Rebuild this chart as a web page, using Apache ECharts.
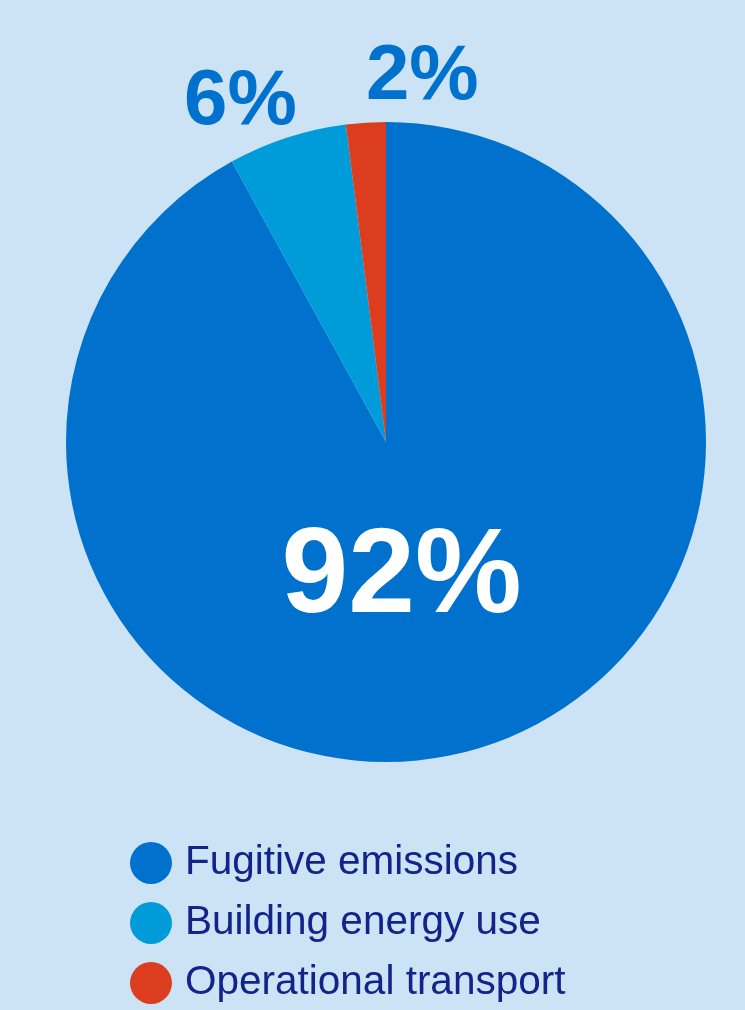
<!DOCTYPE html>
<html>
<head>
<meta charset="utf-8">
<script src="https://cdn.jsdelivr.net/npm/echarts@6/dist/echarts.min.js"></script>
<style>
html,body{margin:0;padding:0;background:#cce3f5;}
#c{width:745px;height:1010px;}
</style>
</head>
<body>
<div id="c"></div>
<script>
const categories = ['Fugitive emissions', 'Building energy use', 'Operational transport'];
const values = [92, 6, 2];
const labels = ['92%', '6%', '2%'];
const colors = ['#0072ce', '#009cda', '#dc3d1e'];

const chart = echarts.init(document.getElementById('c'), null, {renderer: 'canvas'});
const data = categories.map((name, i) => ({
  name: name,
  value: values[i],
  itemStyle: {color: colors[i]},
  label: i === 0 ? {
    position: 'inside',
    color: '#ffffff',
    fontSize: 120,
    fontWeight: 'bold'
  } : {
    position: 'outside',
    color: '#0072ce',
    fontSize: 78,
    fontWeight: 'bold'
  }
}));

const labelShift = [[-25, -21], [131, -80], [119, -25]];

chart.setOption({
  backgroundColor: '#cce3f5',
  animation: false,
  legend: {
    orient: 'vertical',
    left: 130,
    top: 842,
    padding: 0,
    itemWidth: 42,
    itemHeight: 42,
    itemGap: 18,
    icon: 'circle',
    selectedMode: false,
    textStyle: {
      fontFamily: 'Liberation Sans',
      fontSize: 40.5,
      color: '#14238a',
      padding: [0, 0, 0, 8]
    },
    data: categories
  },
  series: [{
    type: 'pie',
    center: [386, 442],
    radius: 320,
    startAngle: 90,
    clockwise: true,
    silent: true,
    label: {
      show: true,
      fontFamily: 'Liberation Sans',
      formatter: p => labels[p.dataIndex]
    },
    labelLine: {show: false, length: 20, length2: 0},
    labelLayout: function (p) {
      const s = labelShift[p.dataIndex];
      return {dx: s[0], dy: s[1]};
    },
    data: data
  }]
});
</script>
</body>
</html>
